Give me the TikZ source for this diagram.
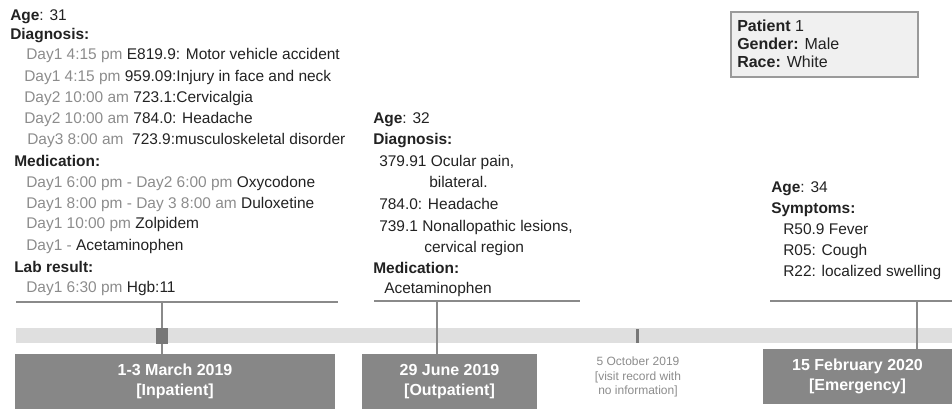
\documentclass[tikz,border=0pt]{standalone}
\usepackage{fontspec}
\setmainfont{Liberation Sans}
\usetikzlibrary{positioning}
\definecolor{inkdark}{HTML}{222222}
\definecolor{timegray}{HTML}{8C8C8C}
\definecolor{linegray}{HTML}{8A8A8A}
\definecolor{bandgray}{HTML}{DFDFDF}
\definecolor{boxgray}{HTML}{878787}
\definecolor{markgray}{HTML}{777777}
\definecolor{cardfill}{HTML}{F0F0F0}
\definecolor{cardedge}{HTML}{9A9A9A}
\newcommand{\tm}[1]{\textcolor{timegray}{#1}}
\tikzset{
  txt/.style={anchor=base west, inner sep=0pt, text=inkdark, font=\fontsize{11.6}{13}\selectfont},
  hdr/.style={txt, font=\fontsize{11.6}{13}\selectfont\bfseries},
  cardtxt/.style={txt, font=\fontsize{12}{13}\selectfont},
  datebox/.style={fill=boxgray, text=white, align=center, minimum height=41.25pt, inner sep=0pt,
    font=\fontsize{12}{15}\selectfont\bfseries},
  bracket/.style={draw=linegray, line width=2pt},
  stem/.style={draw=linegray, line width=2pt},
  note/.style={align=center, text=timegray, inner sep=0pt, font=\fontsize{9}{10.9}\selectfont}
}
\begin{document}
\begin{tikzpicture}[x=0.75pt,y=-0.75pt]
\useasboundingbox (0,0) rectangle (952,412);

% timeline band
\fill[bandgray] (16,328) rectangle (952,343);

% patient card
\node[draw=cardedge, line width=1.2pt, fill=cardfill, minimum width=140.25pt, minimum height=48.75pt, inner sep=0pt] (card) at (824.5,44.5) {};
\node[cardtxt] (pat) at (737,31) {\textbf{Patient} 1};
\node[cardtxt] (gen) at (737,49) {\textbf{Gender:} Male};
\node[cardtxt] (race) at (737,67) {\textbf{Race:} White};

% visit 1
\node[txt] (age1) at (10,20) {\textbf{Age}: 31};
\node[hdr] (dia1) at (10,39) {Diagnosis:};
\node[txt] (d11) at (26,59) {\tm{Day1 4:15 pm} E819.9: Motor vehicle accident};
\node[txt] (d12) at (24,81) {\tm{Day1 4:15 pm} 959.09:Injury in face and neck};
\node[txt] (d13) at (24,102) {\tm{Day2 10:00 am} 723.1:Cervicalgia};
\node[txt] (d14) at (24,123) {\tm{Day2 10:00 am} 784.0: Headache};
\node[txt] (d15) at (27,144) {\tm{Day3 8:00 am}\ \ 723.9:musculoskeletal disorder};
\node[hdr] (med1) at (14,166) {Medication:};
\node[txt] (m11) at (26,187) {\tm{Day1 6:00 pm - Day2 6:00 pm} Oxycodone};
\node[txt] (m12) at (26,208) {\tm{Day1 8:00 pm - Day 3 8:00 am} Duloxetine};
\node[txt] (m13) at (26,228) {\tm{Day1 10:00 pm} Zolpidem};
\node[txt] (m14) at (26,250) {\tm{Day1 -} Acetaminophen};
\node[hdr] (lab1) at (14,272) {Lab result:};
\node[txt] (l11) at (26,292) {\tm{Day1 6:30 pm} Hgb:11};

% visit 2
\node[txt] (age2) at (373,123) {\textbf{Age}: 32};
\node[hdr] (dia2) at (373,144) {Diagnosis:};
\node[txt] (d21) at (379,166) {379.91 Ocular pain,};
\node[txt] (d22) at (429,187) {bilateral.};
\node[txt] (d23) at (379,209) {784.0: Headache};
\node[txt] (d24) at (379,231) {739.1 Nonallopathic lesions,};
\node[txt] (d25) at (424,252) {cervical region};
\node[hdr] (med2) at (373,273) {Medication:};
\node[txt] (m21) at (384,293) {Acetaminophen};

% visit 4
\node[txt] (age4) at (771,192) {\textbf{Age}: 34};
\node[hdr] (sym4) at (771,213) {Symptoms:};
\node[txt] (s41) at (783,234) {R50.9 Fever};
\node[txt] (s42) at (783,255) {R05: Cough};
\node[txt] (s43) at (783,276) {R22: localized swelling};

% date boxes
\node[datebox, minimum width=240pt] (visit1) at (175,381.5) {1-3 March 2019\\{[Inpatient]}};
\node[datebox, minimum width=131.25pt] (visit2) at (449.5,381.5) {29 June 2019\\{[Outpatient]}};
\node[datebox, minimum width=141.75pt] (visit4) at (857.5,376.5) {15 February 2020\\{[Emergency]}};
\node[note] (visit3) at (638,377) {5 October 2019\\{[visit record with}\\no information]};

% brackets and stems
\coordinate (b1l) at (16,302);  \coordinate (b1r) at (338,302);  \coordinate (s1) at (162,302);
\coordinate (b2l) at (374,301); \coordinate (b2r) at (580,301);  \coordinate (s2) at (437,301);
\coordinate (b4l) at (770,301); \coordinate (b4r) at (952,301);  \coordinate (s4) at (917,301);
\draw[bracket] (b1l) -- (b1r);
\draw[bracket] (b2l) -- (b2r);
\draw[bracket] (b4l) -- (b4r);
\draw[stem] (s1) -- (s1 |- visit1.north);
\draw[stem] (s2) -- (s2 |- visit2.north);
\draw[stem] (s4) -- (s4 |- visit4.north);

% markers on the band
\node[fill=markgray, minimum width=9pt, minimum height=12pt, inner sep=0pt] (mark1) at (162,335.5) {};
\node[fill=markgray, minimum width=2.25pt, minimum height=10.5pt, inner sep=0pt] (mark3) at (637,336) {};
\end{tikzpicture}
\end{document}
